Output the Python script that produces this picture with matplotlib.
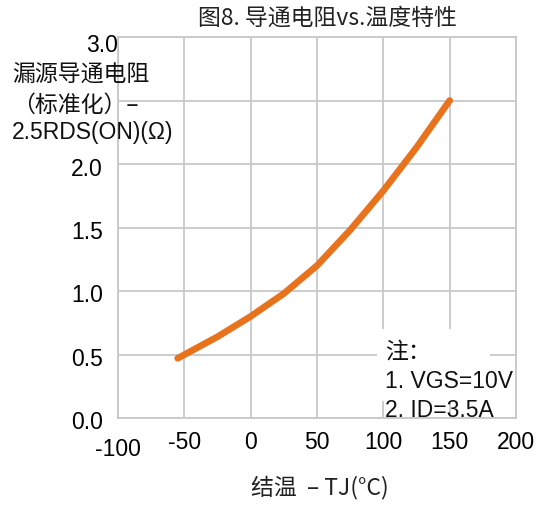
import matplotlib
matplotlib.use("Agg")
import matplotlib.pyplot as plt
import matplotlib.transforms as mtransforms

plt.rcParams['font.family'] = ['Liberation Sans', 'Noto Sans CJK SC', 'DejaVu Sans']

# Normalized on-resistance vs junction temperature
temp_c = [-55, -25, 0, 25, 50, 75, 100, 125, 150]
rds_norm = [0.47, 0.64, 0.80, 0.98, 1.20, 1.48, 1.79, 2.13, 2.50]

x_ticks = [-100, -50, 0, 50, 100, 150, 200]
y_ticks = [0.0, 0.5, 1.0, 1.5, 2.0, 2.5, 3.0]
y_tick_labels = ['0.0', '0.5', '1.0', '1.5', '2.0', '', '3.0']

title = '图8. 导通电阻vs.温度特性'
y_label_lines = ['漏源导通电阻', '（标准化）–', '2.5RDS(ON)(Ω)']
x_label = '结温  – TJ(°C)'
note_lines = ['注：', '1. VGS=10V', '2. ID=3.5A']

FS = 16.5
CJK = ['Noto Sans CJK SC', 'DejaVu Sans']
LAT = ['Liberation Sans', 'DejaVu Sans']

W, H = 542, 506
fig = plt.figure(figsize=(W / 100, H / 100), dpi=100)
ax = fig.add_axes([118 / W, 1 - 419 / H, (516 - 118) / W, (419 - 38) / H])

grid_color = '#c8c8c8'
ax.set_xlim(-100, 200)
ax.set_ylim(0, 3.0)
ax.set_xticks(x_ticks)
ax.set_yticks(y_ticks)
ax.set_xticklabels([str(v) for v in x_ticks])
ax.set_yticklabels(y_tick_labels)
ax.grid(True, color=grid_color, linewidth=1.3)
for s in ax.spines.values():
    s.set_color(grid_color)
    s.set_linewidth(1.3)
ax.tick_params(length=0, labelsize=FS, colors='black')
ax.tick_params(axis='x', pad=9)
ax.tick_params(axis='y', pad=11)

# nudge individual tick labels
def shift(lbl, dx_px, dy_px):
    lbl.set_transform(lbl.get_transform() +
                      mtransforms.ScaledTranslation(dx_px / 100, dy_px / 100,
                                                    fig.dpi_scale_trans))

for lbl in ax.get_xticklabels():
    if lbl.get_text() == '-100':
        shift(lbl, 0, -7)
for lbl in ax.get_yticklabels():
    if lbl.get_text() == '3.0':
        shift(lbl, 15, -5)
    else:
        shift(lbl, 0, -1.5)

ax.plot(temp_c, rds_norm, color='#E8731C', linewidth=4.8,
        solid_capstyle='round', solid_joinstyle='round', zorder=3)

fig.text(327 / W, 1 - 18 / H, title, ha='center', va='center', fontsize=FS,
         family=CJK, color='#222222')

y_positions = [74, 105, 133]
for txt, yp in zip(y_label_lines, y_positions):
    fam = LAT if txt.startswith('2.5') else CJK
    fig.text(12 / W, 1 - yp / H, txt, ha='left', va='center', fontsize=FS,
             family=fam, color='#111111', zorder=5)

fig.text(320 / W, 1 - 487 / H, x_label, ha='center', va='center', fontsize=FS,
         family=CJK, color='#222222')

fig.patches.append(plt.Rectangle((377 / W, 1 - 402 / H), (490 - 377) / W, (402 - 330) / H,
                                 transform=fig.transFigure, facecolor='white',
                                 edgecolor='none', zorder=4))
note_y = [352, 382, 411]
for txt, yp in zip(note_lines, note_y):
    fam = CJK if txt.startswith('注') else LAT
    fig.text(385 / W, 1 - yp / H, txt, ha='left', va='center', fontsize=FS,
             family=fam, color='#111111', zorder=6)

fig.savefig('out.png', dpi=100)
